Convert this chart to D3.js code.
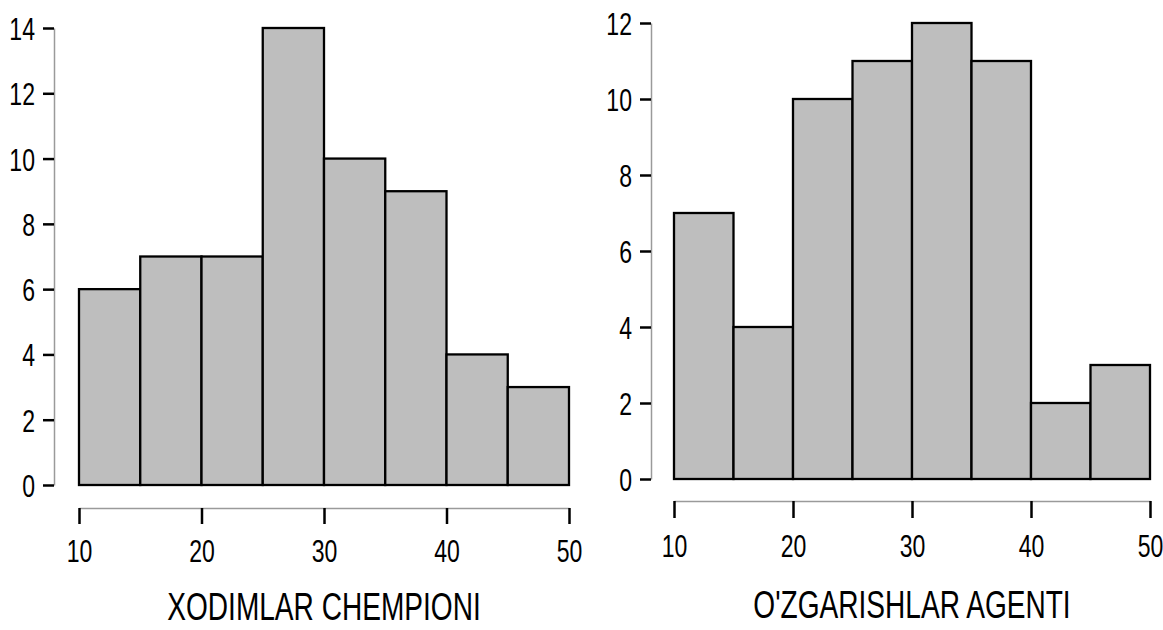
<!DOCTYPE html>
<html>
<head>
<meta charset="utf-8">
<script src="https://cdn.jsdelivr.net/npm/d3@7"></script>
<style>
  html, body { margin: 0; padding: 0; background: #fff; }
  svg { display: block; }
  text { font-family: "Liberation Sans", Arial, sans-serif; fill: #000; }
</style>
</head>
<body>
<div id="chart"></div>
<script>
// bin edges shared by both histograms
const binEdges = [10, 15, 20, 25, 30, 35, 40, 45, 50];
const xTicks = [10, 20, 30, 40, 50];

const championCounts = [6, 7, 7, 14, 10, 9, 4, 3];
const championTicks = [0, 2, 4, 6, 8, 10, 12, 14];
const championTitle = 'XODIMLAR CHEMPIONI';

const agentCounts = [7, 4, 10, 11, 12, 11, 2, 3];
const agentTicks = [0, 2, 4, 6, 8, 10, 12];
const agentTitle = "O'ZGARISHLAR AGENTI";

const W = 1163;
const H = 630;
const SQUEEZE = 0.72; // reference text is horizontally condensed

const svg = d3.select('#chart').append('svg').attr('width', W).attr('height', H);

function drawHist(counts, yTicks, title, m) {
  const bins = counts.map((c, i) => ({ x0: binEdges[i], x1: binEdges[i + 1], count: c }));
  const x = d3.scaleLinear().domain([10, 50]).range([m.x0, m.x1]);
  const y = d3.scaleLinear().domain([0, d3.max(yTicks)]).range([m.base, m.top]);

  svg
    .append('g')
    .selectAll('rect')
    .data(bins)
    .join('rect')
    .attr('x', (d) => x(d.x0))
    .attr('y', (d) => y(d.count))
    .attr('width', (d) => x(d.x1) - x(d.x0))
    .attr('height', (d) => y(0) - y(d.count))
    .attr('fill', '#bebebe')
    .attr('stroke', '#000')
    .attr('stroke-width', 2.3);

  // y axis
  const ga = svg
    .append('g')
    .attr('transform', `translate(${m.yAxisX},0)`)
    .call(d3.axisLeft(y).tickValues(yTicks).tickSize(11).tickSizeOuter(0));
  ga.select('.domain').attr('stroke', '#9a9a9a').attr('stroke-width', 1.5);
  ga.selectAll('.tick line').attr('stroke', '#000').attr('stroke-width', 2.5);
  ga.selectAll('.tick text')
    .attr('x', null)
    .attr('dy', null)
    .attr('transform', `translate(${-m.yLabelGap},11.5) scale(${SQUEEZE},1)`)
    .attr('text-anchor', 'end')
    .style('font-size', '32px')
    .style('font-family', '"Liberation Sans", Arial, sans-serif')
    .attr('fill', '#000');

  // x axis
  const gx = svg
    .append('g')
    .attr('transform', `translate(0,${m.xAxisY})`)
    .call(d3.axisBottom(x).tickValues(xTicks).tickSize(m.xTick).tickSizeOuter(0));
  gx.select('.domain').attr('stroke', '#9a9a9a').attr('stroke-width', 1.5);
  gx.selectAll('.tick line').attr('stroke', '#000').attr('stroke-width', 2.5);
  gx.selectAll('.tick text')
    .attr('y', null)
    .attr('dy', null)
    .attr('transform', `translate(0,${m.xLabelOff}) scale(${SQUEEZE},1)`)
    .attr('text-anchor', 'middle')
    .style('font-size', '32px')
    .style('font-family', '"Liberation Sans", Arial, sans-serif')
    .attr('fill', '#000');

  svg
    .append('text')
    .attr('transform', `translate(${m.titleX},${m.titleY}) scale(${SQUEEZE},1)`)
    .attr('text-anchor', 'middle')
    .style('font-size', '39px')
    .text(title);
}

drawHist(championCounts, championTicks, championTitle, {
  x0: 79, x1: 569, base: 485, top: 28,
  yAxisX: 54, yLabelGap: 19,
  xAxisY: 508, xTick: 16, xLabelOff: 54,
  titleX: 324, titleY: 620,
});

drawHist(agentCounts, agentTicks, agentTitle, {
  x0: 674, x1: 1150, base: 479, top: 23,
  yAxisX: 651, yLabelGap: 19,
  xAxisY: 501, xTick: 17, xLabelOff: 56,
  titleX: 912, titleY: 618,
});
</script>
</body>
</html>
